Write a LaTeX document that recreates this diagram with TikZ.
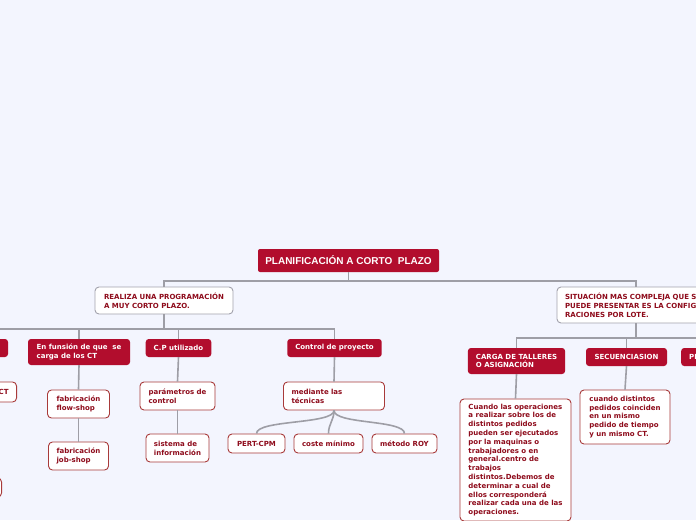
\documentclass[tikz,border=0pt]{standalone}
\usepackage{fontspec}
\setmainfont{DejaVu Sans}
\newfontfamily\rootface{Liberation Sans}
\usetikzlibrary{positioning}
\definecolor{bgblue}{HTML}{F3F5FE}
\definecolor{mapred}{HTML}{B20D2D}
\definecolor{textred}{HTML}{8E0B1B}
\definecolor{leafred}{HTML}{A83A3A}
\definecolor{topicgray}{HTML}{A2A2AC}
\definecolor{linegray}{HTML}{9E9EA6}

\begin{document}
\begin{tikzpicture}[
        x=1pt, y=-1pt,
        root/.style={fill=mapred, rounded corners=2pt, text=white, font=\rootface\bfseries\fontsize{10}{12}\selectfont, inner sep=2pt},
        topic/.style={draw=topicgray, fill=white, rounded corners=4pt, line width=0.9pt, text=textred, font=\bfseries\fontsize{7}{8.8}\selectfont, align=left, inner xsep=8pt, inner ysep=2pt},
        redbox/.style={fill=mapred, rounded corners=3pt, text=white, font=\bfseries\fontsize{7}{8.8}\selectfont, align=left, inner xsep=8pt, inner ysep=2pt},
        leaf/.style={draw=leafred, fill=white, rounded corners=4pt, line width=0.9pt, text=textred, font=\bfseries\fontsize{7}{8.8}\selectfont, align=left, inner xsep=8pt, inner ysep=2pt},
        link/.style={draw=linegray, line width=1.6pt}
    ]

    % fondo y recorte
    \fill[bgblue] (0,0) rectangle (696,520);
    \useasboundingbox (0,0) rectangle (696,520);
    \clip (0,0) rectangle (696,520);

    % Tema central
    \node[root, minimum width=181pt, minimum height=23pt] (root) at (348.5,260.5) {PLANIFICACIÓN A CORTO\ \ PLAZO};

    % Ramas principales
    \node[topic, minimum width=138pt, minimum height=27pt] (realiza) at (164,300.5) {REALIZA UNA PROGRAMACIÓN\\A MUY CORTO PLAZO.};
    \node[topic, minimum width=158pt, minimum height=36pt, text width=142pt] (situacion) at (636,305) {SITUACIÓN MAS COMPLEJA QUE SE\\PUEDE PRESENTAR ES LA CONFIGU\\RACIONES POR LOTE.};

    % Hijos de REALIZA
    \node[redbox, minimum width=96pt, minimum height=18pt] (lred) at (-40,348) {};
    \node[redbox, minimum width=102pt, minimum height=26pt] (funsion) at (79,352) {En funsión de que \ se\\carga de los CT};
    \node[redbox, minimum width=63pt, minimum height=18pt] (cp) at (178.5,348) {C.P utilizado};
    \node[redbox, minimum width=91pt, minimum height=18pt] (control) at (334.5,348) {Control de proyecto};

    % nodos cortados a la izquierda
    \node[leaf, anchor=east, text width=43pt, align=right, minimum height=20pt] (ct) at (17,392) {CT};
    \node[leaf, anchor=east, minimum width=60pt, minimum height=19pt] (lleaf) at (2,487.5) {};

    % Hojas
    \node[leaf, minimum width=62pt, minimum height=28pt] (flow) at (78.5,404) {fabricación\\flow-shop};
    \node[leaf, minimum width=60pt, minimum height=28pt] (job) at (78.5,456) {fabricación\\job-shop};
    \node[leaf, minimum width=75pt, minimum height=28pt] (param) at (177.5,396) {parámetros de\\control};
    \node[leaf, minimum width=63pt, minimum height=28pt] (sistema) at (177.5,448) {sistema de\\información};
    \node[leaf, minimum width=101pt, minimum height=28pt, text width=85pt] (mediante) at (334,396) {mediante las\\técnicas};
    \node[leaf, minimum width=57pt, minimum height=19pt] (pert) at (256.5,443.5) {PERT-CPM};
    \node[leaf, minimum width=69pt, minimum height=19pt] (coste) at (328.5,443.5) {coste mínimo};
    \node[leaf, minimum width=65pt, minimum height=19pt] (roy) at (404.5,443.5) {método ROY};

    % Hijos de SITUACION
    \node[redbox, minimum width=97pt, minimum height=26pt] (carga) at (516.5,361) {CARGA DE TALLERES\\O ASIGNACIÓN};
    \node[redbox, minimum width=81pt, minimum height=18pt] (secuen) at (626.5,357) {SECUENCIASION};
    \node[redbox, anchor=west, text width=40pt, minimum height=18pt] (pr) at (681,357) {PR};

    \node[leaf, minimum width=111pt, minimum height=122pt] (cuando) at (515.5,460) {Cuando las operaciones\\a realizar sobre los de\\distintos pedidos\\pueden ser ejecutados\\por la maquinas o\\trabajadores o en\\general.centro de\\trabajos\\distintos.Debemos de\\determinar a cual de\\ellos corresponderá\\realizar cada una de las\\operaciones.};
    \node[leaf, minimum width=90pt, minimum height=54pt] (coinciden) at (625,417) {cuando distintos\\pedidos coinciden\\en un mismo\\pedido de tiempo\\y un mismo CT.};

    % Conexiones primer nivel
    \coordinate (rbar) at (0,281);
    \draw[link] (root.south) -- (root.south |- rbar);
    \draw[link] (realiza.north) -- (realiza.north |- rbar) -- (situacion.north |- rbar) -- (situacion.north);

    % Conexiones bajo REALIZA
    \coordinate (lbar) at (0,329);
    \draw[link] (realiza.south) -- (realiza.south |- lbar);
    \draw[link] (lred.north) |- (control.north |- lbar) -- (control.north);
    \draw[link] (funsion.north) -- (funsion.north |- lbar);
    \draw[link] (cp.north) -- (cp.north |- lbar);
    \draw[link] (lred.south) -- (lred.south |- ct.north);
    \draw[link] (funsion.south) -- (flow.north);
    \draw[link] (flow.south) -- (job.north);
    \draw[link] (cp.south) -- (param.north);
    \draw[link] (param.south) -- (sistema.north);
    \draw[link] (control.south) -- (mediante.north);

    % Curvas hacia las tecnicas
    \draw[link] (mediante.south) .. controls +(0,14) and +(0,-14) .. (pert.north);
    \draw[link] (mediante.south) .. controls +(0,10) and +(0,-10) .. (coste.north);
    \draw[link] (mediante.south) .. controls +(0,14) and +(0,-14) .. (roy.north);

    % Conexiones bajo SITUACION
    \coordinate (sbar) at (0,338);
    \draw[link] (situacion.south) -- (situacion.south |- sbar);
    \draw[link] (carga.north) |- (pr.north |- sbar) -- (pr.north);
    \draw[link] (secuen.north) -- (secuen.north |- sbar);
    \draw[link] (carga.south) -- (cuando.north);
    \draw[link] (secuen.south) -- (coinciden.north);

\end{tikzpicture}
\end{document}
